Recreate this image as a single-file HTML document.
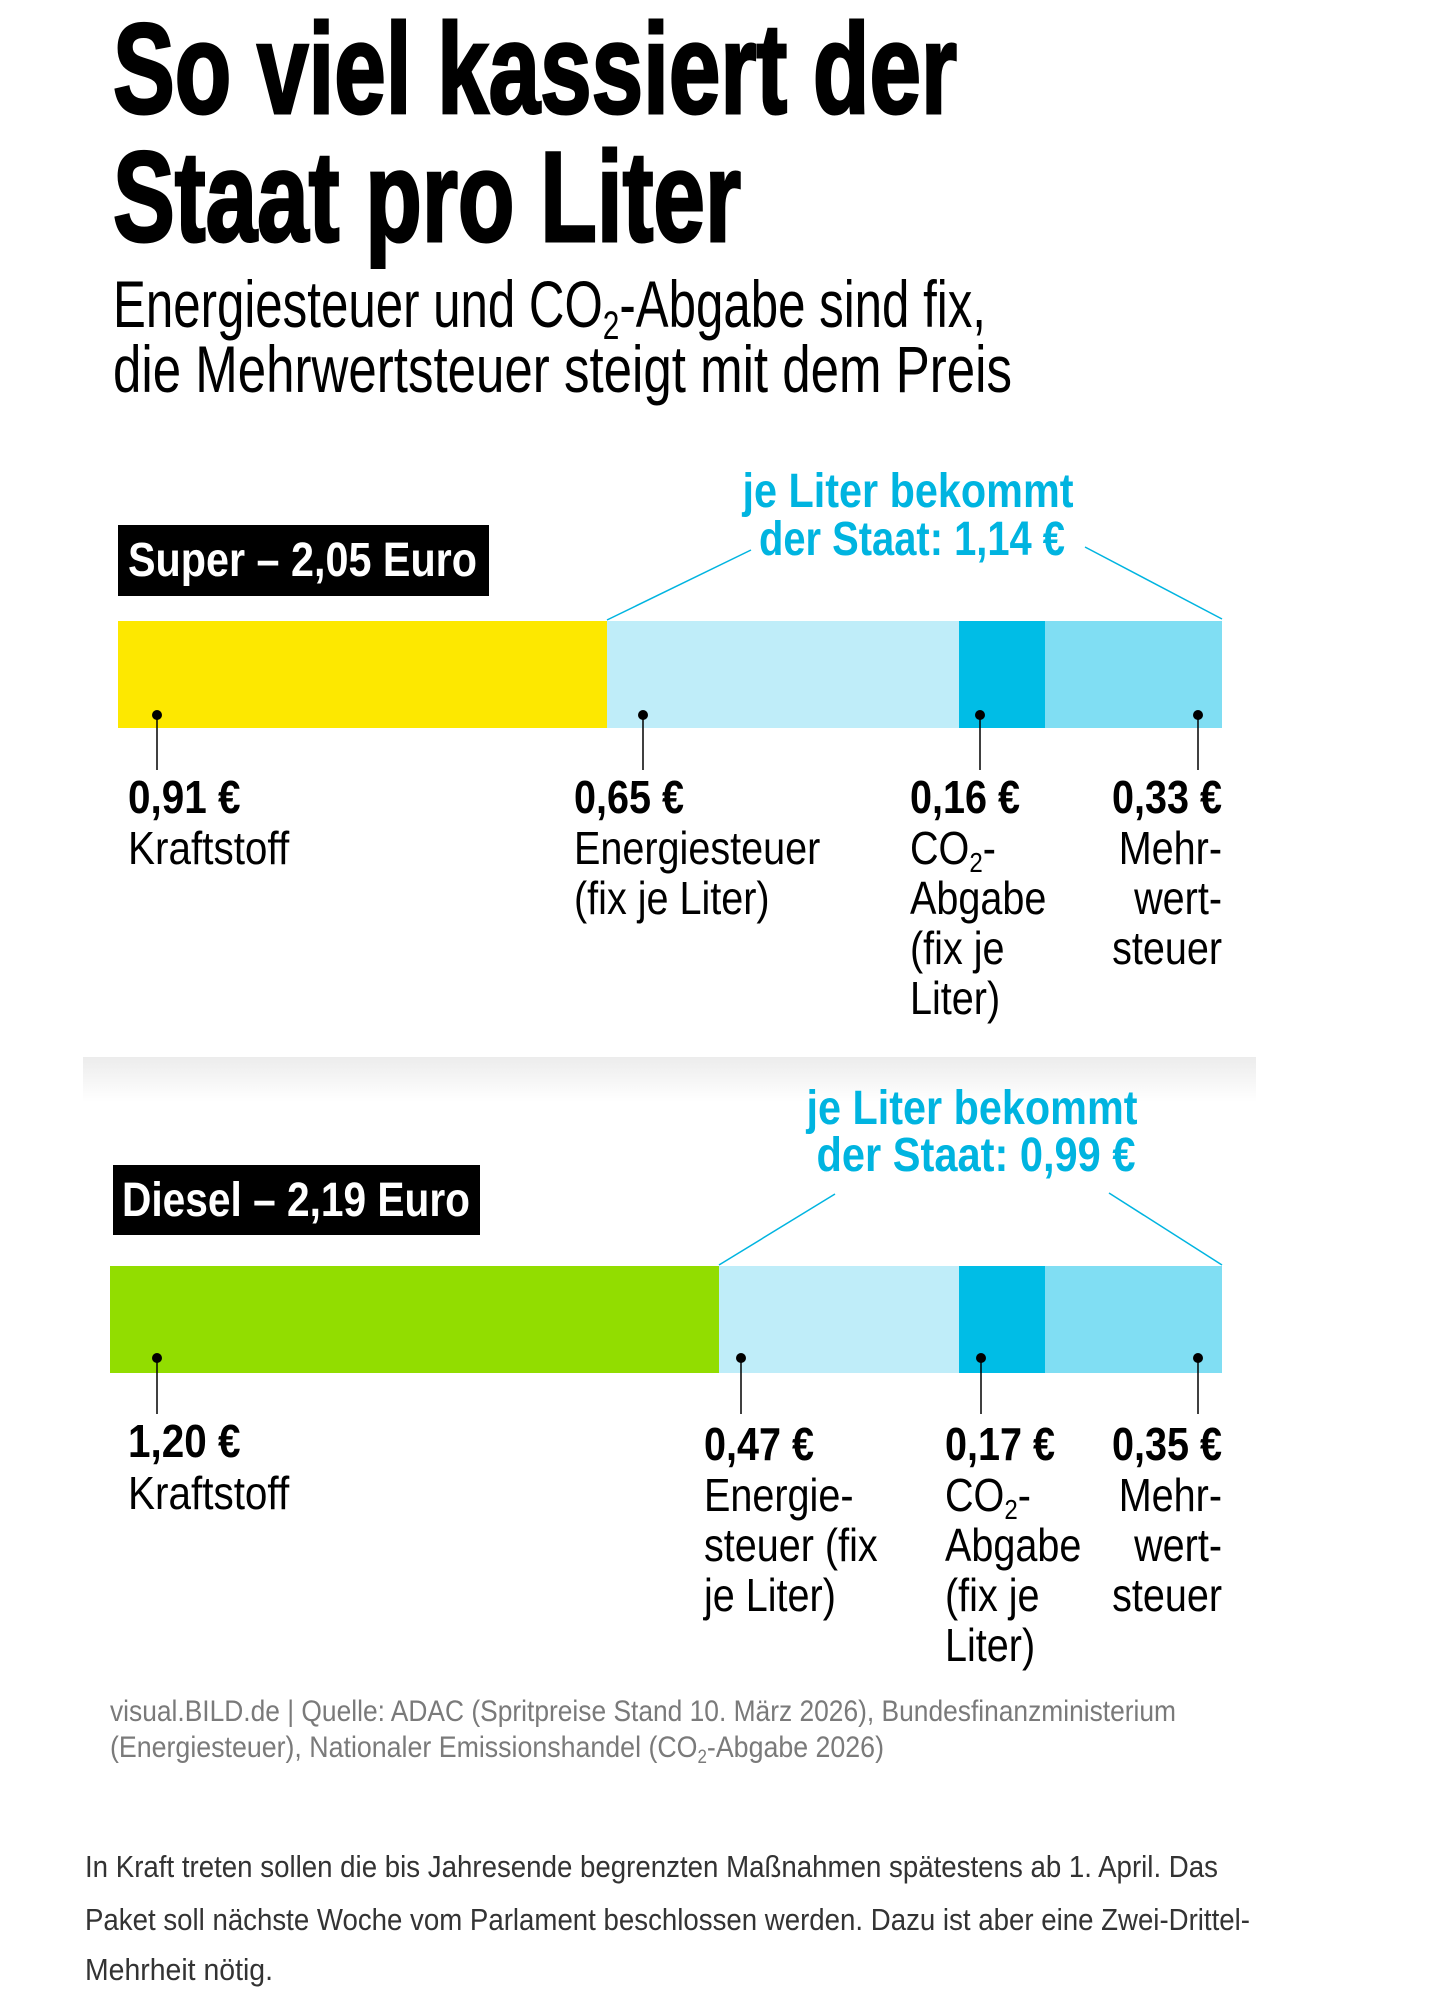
<!DOCTYPE html>
<html><head><meta charset="utf-8"><style>
html,body{margin:0;padding:0;background:#fff;}
svg{display:block;}
text{font-family:"Liberation Sans Narrow","Liberation Sans",sans-serif;}
.b{font-weight:bold;}
</style></head><body>
<svg width="1451" height="2009" viewBox="0 0 1451 2009" xmlns="http://www.w3.org/2000/svg">
<defs><linearGradient id="g" x1="0" y1="0" x2="0" y2="1"><stop offset="0" stop-color="#ececec"/><stop offset="1" stop-color="#fff"/></linearGradient></defs>
<text x="113" y="113" class="b" font-size="128" textLength="844" lengthAdjust="spacingAndGlyphs" stroke="#000" stroke-width="3">So viel kassiert der</text>
<text x="113" y="241" class="b" font-size="128" textLength="628" lengthAdjust="spacingAndGlyphs" stroke="#000" stroke-width="3">Staat pro Liter</text>
<text x="113" y="327" font-size="66" textLength="873" lengthAdjust="spacingAndGlyphs">Energiesteuer und CO<tspan font-size="40" dy="12">2</tspan><tspan dy="-12">-Abgabe sind fix,</tspan></text>
<text x="113" y="392" font-size="66" textLength="899" lengthAdjust="spacingAndGlyphs">die Mehrwertsteuer steigt mit dem Preis</text>

<!-- Super -->
<text x="908" y="507" class="b" font-size="48" fill="#00b4e0" text-anchor="middle" textLength="331" lengthAdjust="spacingAndGlyphs">je Liter bekommt</text>
<text x="912" y="555" class="b" font-size="48" fill="#00b4e0" text-anchor="middle" textLength="306" lengthAdjust="spacingAndGlyphs">der Staat: 1,14 €</text>
<rect x="118" y="525" width="371" height="71" fill="#000"/>
<text x="128" y="576" class="b" font-size="48" fill="#fff" textLength="349" lengthAdjust="spacingAndGlyphs">Super – 2,05 Euro</text>
<rect x="118" y="621" width="489" height="107" fill="#fde800"/>
<rect x="607" y="621" width="352" height="107" fill="#bfedf9"/>
<rect x="959" y="621" width="86" height="107" fill="#00bde6"/>
<rect x="1045" y="621" width="177" height="107" fill="#80def3"/>
<line x1="607" y1="620" x2="751" y2="550" stroke="#00b4e0" stroke-width="1.5"/>
<line x1="1085" y1="547" x2="1222" y2="619" stroke="#00b4e0" stroke-width="1.5"/>
<g stroke="#000" stroke-width="1.5"><line x1="157" y1="715" x2="157" y2="770"/><line x1="643" y1="715" x2="643" y2="770"/><line x1="980" y1="715" x2="980" y2="770"/><line x1="1198" y1="715" x2="1198" y2="770"/></g>
<g fill="#000"><circle cx="157" cy="715" r="5"/><circle cx="643" cy="715" r="5"/><circle cx="980" cy="715" r="5"/><circle cx="1198" cy="715" r="5"/></g>
<g font-size="46">
<g transform="translate(128,0) scale(0.88,1)"><text x="0" y="813" class="b">0,91 €</text><text x="0" y="864">Kraftstoff</text></g>
<g transform="translate(574,0) scale(0.86,1)"><text x="0" y="813" class="b">0,65 €</text><text x="0" y="864">Energiesteuer</text><text x="0" y="914">(fix je Liter)</text></g>
<g transform="translate(910,0) scale(0.86,1)"><text x="0" y="813" class="b">0,16 €</text><text x="0" y="864">CO<tspan font-size="28" dy="8">2</tspan><tspan dy="-8">-</tspan></text><text x="0" y="914">Abgabe</text><text x="0" y="964">(fix je</text><text x="0" y="1014">Liter)</text></g>
<g transform="translate(1222,0) scale(0.86,1)" text-anchor="end"><text x="0" y="813" class="b">0,33 €</text><text x="0" y="864">Mehr-</text><text x="0" y="914">wert-</text><text x="0" y="964">steuer</text></g>
</g>

<rect x="83" y="1057" width="1173" height="45" fill="url(#g)"/>

<!-- Diesel -->
<text x="972" y="1124" class="b" font-size="48" fill="#00b4e0" text-anchor="middle" textLength="331" lengthAdjust="spacingAndGlyphs">je Liter bekommt</text>
<text x="976" y="1171" class="b" font-size="48" fill="#00b4e0" text-anchor="middle" textLength="319" lengthAdjust="spacingAndGlyphs">der Staat: 0,99 €</text>
<rect x="113" y="1165" width="367" height="70" fill="#000"/>
<text x="122" y="1216" class="b" font-size="48" fill="#fff" textLength="348" lengthAdjust="spacingAndGlyphs">Diesel – 2,19 Euro</text>
<rect x="110" y="1266" width="609" height="107" fill="#92dd00"/>
<rect x="719" y="1266" width="240" height="107" fill="#bfedf9"/>
<rect x="959" y="1266" width="86" height="107" fill="#00bde6"/>
<rect x="1045" y="1266" width="177" height="107" fill="#80def3"/>
<line x1="719" y1="1265" x2="835" y2="1194" stroke="#00b4e0" stroke-width="1.5"/>
<line x1="1109" y1="1193" x2="1222" y2="1265" stroke="#00b4e0" stroke-width="1.5"/>
<g stroke="#000" stroke-width="1.5"><line x1="157" y1="1358" x2="157" y2="1414"/><line x1="741" y1="1358" x2="741" y2="1414"/><line x1="981" y1="1358" x2="981" y2="1414"/><line x1="1198" y1="1358" x2="1198" y2="1414"/></g>
<g fill="#000"><circle cx="157" cy="1358" r="5"/><circle cx="741" cy="1358" r="5"/><circle cx="981" cy="1358" r="5"/><circle cx="1198" cy="1358" r="5"/></g>
<g font-size="46">
<g transform="translate(128,0) scale(0.88,1)"><text x="0" y="1457" class="b">1,20 €</text><text x="0" y="1509">Kraftstoff</text></g>
<g transform="translate(704,0) scale(0.86,1)"><text x="0" y="1460" class="b">0,47 €</text><text x="0" y="1511">Energie-</text><text x="0" y="1561">steuer (fix</text><text x="0" y="1611">je Liter)</text></g>
<g transform="translate(945,0) scale(0.86,1)"><text x="0" y="1460" class="b">0,17 €</text><text x="0" y="1511">CO<tspan font-size="28" dy="8">2</tspan><tspan dy="-8">-</tspan></text><text x="0" y="1561">Abgabe</text><text x="0" y="1611">(fix je</text><text x="0" y="1661">Liter)</text></g>
<g transform="translate(1222,0) scale(0.86,1)" text-anchor="end"><text x="0" y="1460" class="b">0,35 €</text><text x="0" y="1511">Mehr-</text><text x="0" y="1561">wert-</text><text x="0" y="1611">steuer</text></g>
</g>

<text x="110" y="1721" font-size="30" fill="#7a7a7a" textLength="1066" lengthAdjust="spacingAndGlyphs">visual.BILD.de | Quelle: ADAC (Spritpreise Stand 10. März 2026), Bundesfinanzministerium</text>
<text x="110" y="1757" font-size="30" fill="#7a7a7a" textLength="774" lengthAdjust="spacingAndGlyphs">(Energiesteuer), Nationaler Emissionshandel (CO<tspan font-size="19" dy="6">2</tspan><tspan dy="-6">-Abgabe 2026)</tspan></text>

<text x="85" y="1877" font-size="31" fill="#333" textLength="1133" lengthAdjust="spacingAndGlyphs">In Kraft treten sollen die bis Jahresende begrenzten Maßnahmen spätestens ab 1. April. Das</text>
<text x="85" y="1930" font-size="31" fill="#333" textLength="1165" lengthAdjust="spacingAndGlyphs">Paket soll nächste Woche vom Parlament beschlossen werden. Dazu ist aber eine Zwei-Drittel-</text>
<text x="85" y="1980" font-size="31" fill="#333" textLength="188" lengthAdjust="spacingAndGlyphs">Mehrheit nötig.</text>
</svg>
</body></html>
